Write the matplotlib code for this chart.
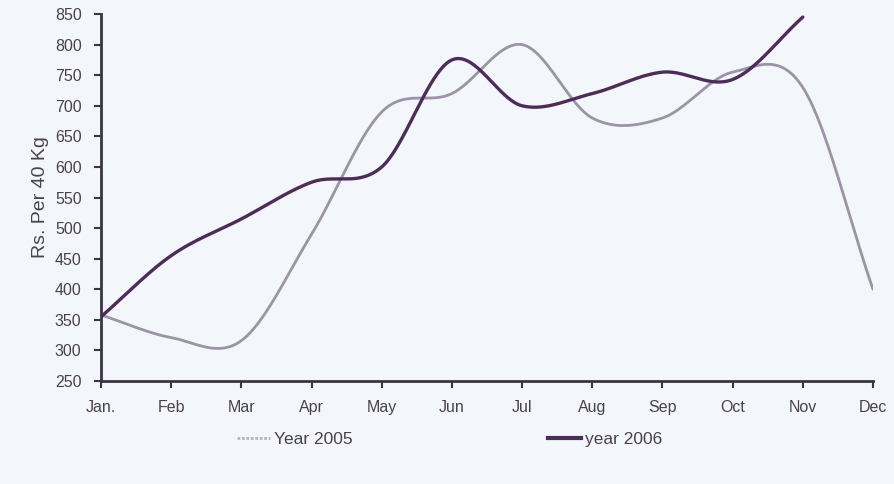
import numpy as np
import matplotlib
matplotlib.use("Agg")
import matplotlib.pyplot as plt
from matplotlib.lines import Line2D

months = ["Jan.", "Feb", "Mar", "Apr", "May", "Jun", "Jul", "Aug", "Sep", "Oct", "Nov", "Dec"]
price_2005 = [358, 321, 316, 490, 690, 720, 800, 680, 680, 755, 730, 400]
price_2006 = [355, 455, 515, 575, 600, 775, 700, 720, 755, 743, 845]
y_ticks = [250, 300, 350, 400, 450, 500, 550, 600, 650, 700, 750, 800, 850]

BG = "#f3f6fa"
TXT = "#4a4052"
C2005 = "#9c94a6"
C2006 = "#4b2d57"


def smooth(xs, ys, n=40):
    """Catmull-Rom spline through the points (spreadsheet-style smoothed line)."""
    xs = np.asarray(xs, float)
    ys = np.asarray(ys, float)
    px = np.concatenate([[2 * xs[0] - xs[1]], xs, [2 * xs[-1] - xs[-2]]])
    py = np.concatenate([[2 * ys[0] - ys[1]], ys, [2 * ys[-1] - ys[-2]]])
    outx, outy = [], []
    t = np.linspace(0, 1, n)
    for i in range(1, len(px) - 2):
        for arr, out in ((px, outx), (py, outy)):
            p0, p1, p2, p3 = arr[i - 1], arr[i], arr[i + 1], arr[i + 2]
            seg = 0.5 * ((2 * p1) + (-p0 + p2) * t
                         + (2 * p0 - 5 * p1 + 4 * p2 - p3) * t ** 2
                         + (-p0 + 3 * p1 - 3 * p2 + p3) * t ** 3)
            out.extend(seg if i == 1 else seg[1:])
    return np.array(outx), np.array(outy)


plt.rcParams["font.family"] = ["Liberation Sans", "DejaVu Sans"]
fig = plt.figure(figsize=(8.94, 4.84), dpi=100, facecolor=BG)
ax = fig.add_axes([0.113, 0.2128, 0.8635, 0.7582], facecolor=BG)

x05 = np.arange(len(price_2005))
x06 = np.arange(len(price_2006))
sx, sy = smooth(x05, price_2005)
ax.plot(sx, sy, color=C2005, lw=2.0, solid_capstyle="round")
sx, sy = smooth(x06, price_2006)
ax.plot(sx, sy, color=C2006, lw=2.4, solid_capstyle="round")

ax.set_xlim(0, len(months) - 1)
ax.set_ylim(250, 850)
ax.set_xticks(np.arange(len(months)))
ax.set_xticklabels(months)
ax.set_yticks(y_ticks)
for s in ("top", "right"):
    ax.spines[s].set_visible(False)
for s in ("left", "bottom"):
    ax.spines[s].set_color("#3c3444")
    ax.spines[s].set_linewidth(2.0)
ax.tick_params(axis="both", colors="#3c3444", labelcolor=TXT, labelsize=11.5,
               length=5, width=1.5, direction="out")
ax.tick_params(axis="x", pad=9)
ax.tick_params(axis="y", pad=9)
ax.set_ylabel("Rs. Per 40 Kg", color=TXT, fontsize=14)
ax.yaxis.set_label_coords(-0.068, 0.50)

handles = [Line2D([], [], color="#b9b2c2", lw=2.0, ls=(0, (1, 0.6))),
           Line2D([], [], color=C2006, lw=3.0)]
fig.legend(handles=handles, labels=["Year 2005", "year 2006"], loc="center",
           bbox_to_anchor=(0.503, 0.092), ncol=2, frameon=False, fontsize=12.5,
           labelcolor=TXT, handlelength=1.9, handletextpad=0.2, columnspacing=11.3)

fig.savefig("out.png", dpi=100, facecolor=BG)
